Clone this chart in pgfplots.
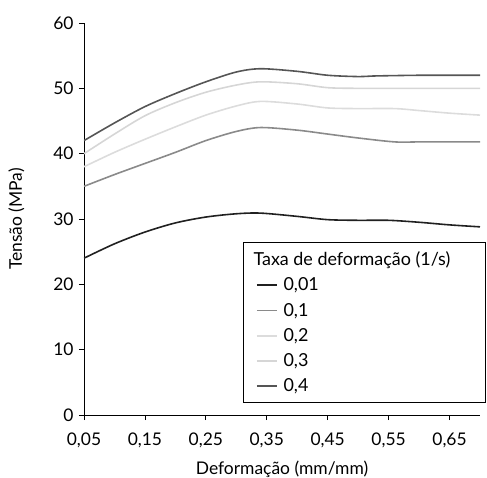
\documentclass[border=0pt]{standalone}
\usepackage{pgfplots}
\pgfplotsset{compat=1.18}
\usepackage{fontspec}
\setmainfont{Lato}
\definecolor{c001}{HTML}{202020}
\definecolor{c01}{HTML}{8A8A8A}
\definecolor{c02}{HTML}{DCDCDC}
\definecolor{c03}{HTML}{D6D6D6}
\definecolor{c04}{HTML}{555555}
\begin{document}
\begin{tikzpicture}
\path[use as bounding box] (-84bp,-63bp) rectangle (403bp,415bp);
\begin{axis}[
  scale only axis,
  width=396bp, height=392bp,
  xmin=0.05, xmax=0.70,
  ymin=0, ymax=60,
  xtick={0.05,0.15,0.25,0.35,0.45,0.55,0.65},
  ytick={0,10,20,30,40,50,60},
  xticklabel style={yshift=-9bp,/pgf/number format/.cd,fixed,fixed zerofill,precision=2,use comma},
  yticklabel style={xshift=-2bp},
  /pgf/number format/assume math mode=true,
  axis x line=bottom, axis y line=left,
  axis line style={-, line width=0.8pt},
  tick style={black, line width=0.8pt},
  tick align=outside, major tick length=5bp,
  font=\fontsize{17.5}{20}\selectfont,
  xlabel={Deformação (mm/mm)},
  ylabel={Tensão (MPa)},
  xlabel style={yshift=-7bp},
  ylabel style={yshift=22bp},
  legend cell align=left,
  legend style={at={(rel axis cs:1.015,0.031)}, anchor=south east,
    draw=black, line width=0.8pt, inner xsep=12bp, inner ysep=7bp,
    row sep=6.8bp, font=\fontsize{18}{20}\selectfont},
  legend image code/.code={\draw[#1, line width=1.8pt] (0bp,0bp) -- (20bp,0bp); \path (24bp,0bp);},
  every axis plot/.append style={line width=1.6pt, smooth, tension=0.5},
]
\addlegendimage{empty legend}
\addlegendentry{\hspace{-30bp}\makebox[218bp][l]{Taxa de deformação (1/s)}\rule[-8bp]{0pt}{20bp}}
\addplot[c001] coordinates {
 (0.05,24) (0.10,26.2) (0.15,28) (0.20,29.4) (0.25,30.3) (0.30,30.8) (0.34,30.9)
 (0.40,30.4) (0.45,29.9) (0.50,29.8) (0.55,29.8) (0.60,29.5) (0.65,29.1) (0.70,28.8)};
\addlegendentry{0,01}
\addplot[c01] coordinates {
 (0.05,35) (0.10,36.8) (0.15,38.5) (0.20,40.2) (0.25,42) (0.30,43.4) (0.34,44)
 (0.40,43.6) (0.45,43) (0.50,42.4) (0.56,41.8) (0.60,41.8) (0.65,41.8) (0.70,41.8)};
\addlegendentry{0,1}
\addplot[c02] coordinates {
 (0.05,38) (0.10,40.2) (0.15,42.2) (0.20,44.1) (0.25,45.9) (0.30,47.3) (0.34,48)
 (0.40,47.6) (0.45,47) (0.50,46.9) (0.56,46.9) (0.60,46.6) (0.65,46.2) (0.70,45.9)};
\addlegendentry{0,2}
\addplot[c03] coordinates {
 (0.05,40) (0.10,43) (0.15,45.8) (0.20,47.8) (0.25,49.4) (0.30,50.5) (0.34,51)
 (0.40,50.7) (0.45,50.1) (0.50,50) (0.55,50) (0.60,50) (0.65,50) (0.70,50)};
\addlegendentry{0,3}
\addplot[c04] coordinates {
 (0.05,42) (0.10,44.7) (0.15,47.2) (0.20,49.2) (0.25,51) (0.30,52.5) (0.34,53)
 (0.40,52.6) (0.45,52) (0.50,51.8) (0.53,51.9) (0.60,52) (0.65,52) (0.70,52)};
\addlegendentry{0,4}
\end{axis}
\end{tikzpicture}
\end{document}
